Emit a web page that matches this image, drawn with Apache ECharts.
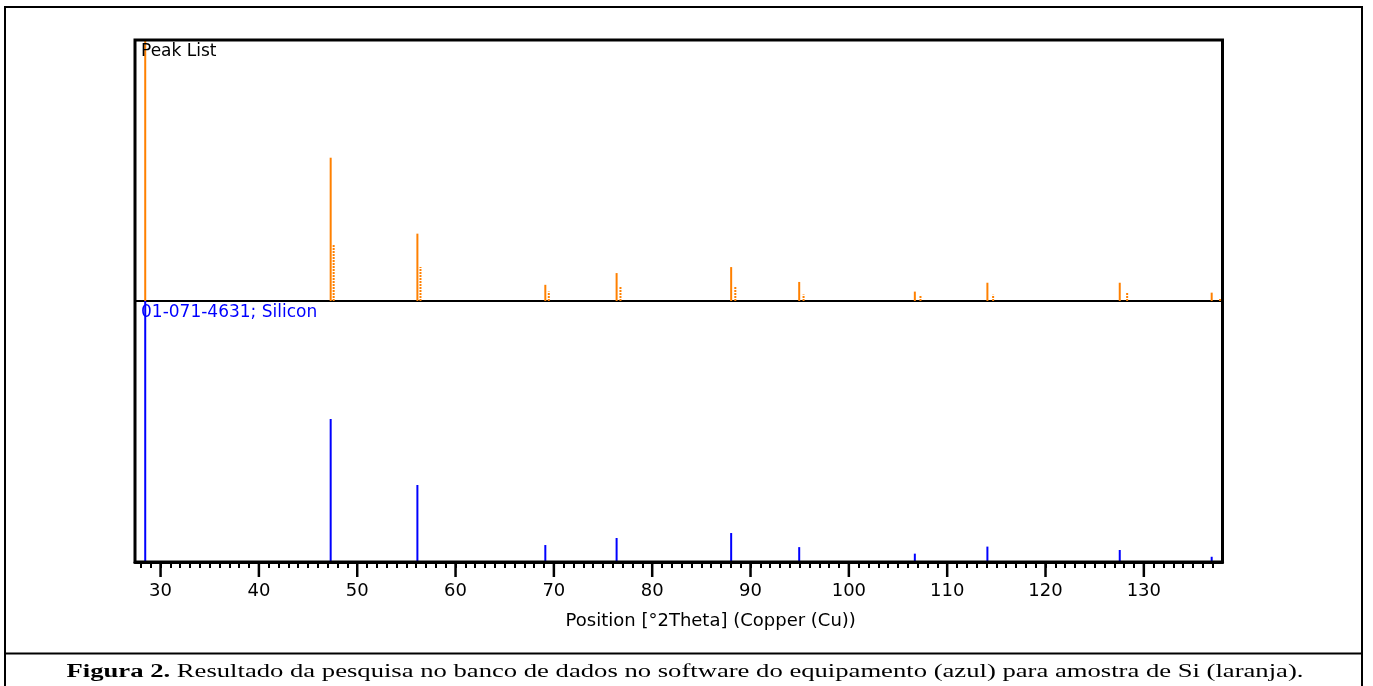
<!DOCTYPE html>
<html>
<head>
<meta charset="utf-8">
<script src="https://cdn.jsdelivr.net/npm/echarts@6/dist/echarts.min.js"></script>
<style>
html, body { margin: 0; padding: 0; background: #fff; }
#chart { width: 1373px; height: 686px; }
</style>
</head>
<body>
<div id="chart"></div>
<script>
// peak positions [°2Theta] and relative heights (%)
const peakPos = [28.44, 47.30, 56.12, 69.13, 76.38, 88.03, 94.95, 106.71, 114.09, 127.55, 136.90];
const peakInt = [100, 54.9, 25.8, 6.2, 10.7, 13.0, 7.3, 3.6, 7.0, 7.0, 3.2];
// alpha2 companions of the measured peaks
const alpha2Pos = [47.45, 56.28, 69.33, 76.62, 88.30, 95.24, 107.13, 114.52, 128.15, 137.59];
const alpha2Int = [21.8, 13.0, 3.6, 5.6, 5.5, 2.5, 2.0, 2.4, 3.2, 0.9];
// reference pattern 01-071-4631 Silicon
const refPos = [28.44, 47.30, 56.12, 69.13, 76.38, 88.03, 94.95, 106.71, 114.09, 127.55, 136.90];
const refInt = [100, 54.8, 29.5, 6.5, 9.2, 11.1, 5.7, 3.2, 5.9, 4.6, 2.0];

const majorTicks = [30, 40, 50, 60, 70, 80, 90, 100, 110, 120, 130];
const minorTicks = [];
for (let t = 28; t <= 137; t++) minorTicks.push(t);

const xMin = 27.4, xMax = 138.0;

// plot frame
const L = 135, T = 40, R = 1222.5, B = 562, MID = 301;

const zip = (a, b) => a.map((v, i) => [v, b[i]]);

function stick(color, dash) {
    return function (params, api) {
        const p0 = api.coord([api.value(0), 0]);
        const p1 = api.coord([api.value(0), api.value(1)]);
        const off = dash ? 1.5 : 0;
        return {
            type: 'line',
            shape: { x1: p0[0] + off, y1: p0[1], x2: p1[0] + off, y2: p1[1] },
            style: { stroke: color, lineWidth: 2, lineDash: dash ? [2, 1] : null }
        };
    };
}

// long tick at every 10 degrees, drawn in the thin strip under the axis
function majorTick(params, api) {
    const p0 = api.coord([api.value(0), 1]);
    const p1 = api.coord([api.value(0), 0]);
    return {
        type: 'line',
        shape: { x1: p0[0], y1: p0[1], x2: p1[0], y2: p1[1] },
        style: { stroke: '#000', lineWidth: 2.5 }
    };
}

const labelFont = 'DejaVu Sans';
const noAxis = { show: false };

const chart = echarts.init(document.getElementById('chart'));
const option = {
    animation: false,
    grid: [
        { left: L, top: T, width: R - L, height: MID - T },
        { left: L, top: MID, width: R - L, height: B - MID },
        // same box, only carries the labels and the axis name
        { left: L, top: MID, width: R - L, height: B - MID },
        // strip under the axis for the major ticks
        { left: L, top: B, width: R - L, height: 15 }
    ],
    xAxis: [
        {
            gridIndex: 0, type: 'value', min: xMin, max: xMax, position: 'bottom',
            axisLine: { show: true, lineStyle: { color: '#000', width: 2 } },
            axisTick: noAxis, axisLabel: noAxis, splitLine: noAxis
        },
        {
            gridIndex: 1, type: 'value', min: xMin, max: xMax, position: 'bottom',
            axisLine: { show: true, lineStyle: { color: '#000', width: 3 } },
            axisTick: { show: true, length: 6, customValues: minorTicks, lineStyle: { color: '#000', width: 2 } },
            axisLabel: noAxis, splitLine: noAxis
        },
        {
            gridIndex: 2, type: 'value', min: xMin, max: xMax, position: 'bottom',
            name: 'Position [°2Theta] (Copper (Cu))',
            nameLocation: 'middle', nameGap: 50,
            nameTextStyle: { fontFamily: labelFont, fontSize: 18, color: '#000', padding: [0, 0, 0, 64] },
            axisLine: noAxis, axisTick: noAxis,
            axisLabel: { show: true, customValues: majorTicks, margin: 20, fontFamily: labelFont, fontSize: 18, color: '#000' },
            splitLine: noAxis
        },
        {
            gridIndex: 3, type: 'value', min: xMin, max: xMax, show: false, splitLine: noAxis
        }
    ],
    yAxis: [
        { gridIndex: 0, type: 'value', min: 0, max: 100, show: false, splitLine: noAxis },
        { gridIndex: 1, type: 'value', min: 0, max: 100, show: false, splitLine: noAxis },
        { gridIndex: 2, type: 'value', min: 0, max: 100, show: false, splitLine: noAxis },
        { gridIndex: 3, type: 'value', min: 0, max: 1, inverse: true, show: false, splitLine: noAxis }
    ],
    graphic: [
        { type: 'rect', shape: { x: 5, y: 7, width: 1357, height: 690 }, style: { fill: 'none', stroke: '#000', lineWidth: 2 }, z: -1 },
        { type: 'line', shape: { x1: 5, y1: 653.5, x2: 1362, y2: 653.5 }, style: { stroke: '#000', lineWidth: 2 } },
        { type: 'rect', shape: { x: L, y: T, width: R - L, height: B - T }, style: { fill: 'none', stroke: '#000', lineWidth: 3 }, z: 10 },
        { type: 'text', x: L + 6, y: T + 12, style: { text: 'Peak List', fill: '#000', font: '17px "DejaVu Sans"', verticalAlign: 'middle' }, z: 11 },
        { type: 'text', x: L + 6, y: MID + 12, style: { text: '01-071-4631; Silicon', fill: '#0000ff', font: '17px "DejaVu Sans"', verticalAlign: 'middle' }, z: 11 },
        {
            type: 'text', x: 685, y: 672, scaleX: 1.48,
            style: {
                text: '{b|Figura 2.} Resultado da pesquisa no banco de dados no software do equipamento (azul) para amostra de Si (laranja).',
                fill: '#000', align: 'center', verticalAlign: 'middle',
                fontFamily: 'Liberation Serif', fontSize: 18,
                rich: { b: { fontWeight: 'bold', fontFamily: 'Liberation Serif', fontSize: 18 } }
            }
        }
    ],
    series: [
        { type: 'custom', xAxisIndex: 0, yAxisIndex: 0, renderItem: stick('#ff8000', true), data: zip(alpha2Pos, alpha2Int), clip: false },
        { type: 'custom', xAxisIndex: 0, yAxisIndex: 0, renderItem: stick('#ff8000', false), data: zip(peakPos, peakInt), clip: false },
        { type: 'custom', xAxisIndex: 1, yAxisIndex: 1, renderItem: stick('#0000ff', false), data: zip(refPos, refInt), clip: false },
        { type: 'custom', xAxisIndex: 3, yAxisIndex: 3, renderItem: majorTick, data: majorTicks.map(v => [v, 0]), silent: true, z: 5 }
    ]
};
chart.setOption(option);
window.addEventListener('resize', function () {
    chart.resize();
});
</script>
</body>
</html>
